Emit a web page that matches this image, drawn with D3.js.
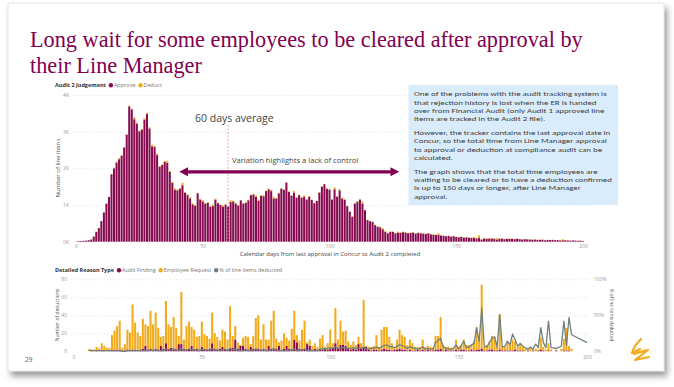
<!DOCTYPE html>
<html><head><meta charset="utf-8">
<script src="https://cdn.jsdelivr.net/npm/d3@7"></script>
<style>body{margin:0;background:#fff;} svg{display:block}</style>
</head><body>
<svg id="c" width="674" height="387"></svg>
<script>
// ---------------- DATA ----------------
const titleLines = ["Long wait for some employees to be cleared after approval by", "their Line Manager"];
const days = d3.range(0, 201); // calendar days 0..200 (category axis)
// Audit 2 Judgement = Approve, number of line items per day
const approve = [5,20,20,25,30,40,60,140,270,370,560,800,1040,1220,1840,2000,2160,2250,2340,2570,
2920,3690,3610,3340,3220,3010,3060,3330,3480,3090,2600,2580,2360,2040,2090,2180,2150,1900,1610,1420,
1400,1450,1540,1340,1270,1180,1020,980,1320,1150,1100,1040,1060,950,970,1150,1050,1000,960,1010,
960,1080,1100,1040,990,1130,1040,1060,1130,1270,1290,1220,1110,1250,1240,1380,1430,1380,1180,1180,
1320,1450,1410,1610,1360,1250,1340,1200,1270,1200,1230,1150,1230,1140,1050,1110,1340,1500,1570,1440,
1420,1150,1430,1230,1400,1180,1140,970,820,680,1040,1090,1150,1040,860,590,560,540,450,410,
390,340,270,230,270,270,230,250,240,260,250,230,240,250,220,240,230,220,210,230,
200,190,180,190,170,160,150,160,140,150,130,120,130,110,120,110,100,100,90,100,
60,90,80,85,90,80,60,80,85,70,75,80,75,70,80,70,60,70,65,60,
55,60,45,50,55,40,50,45,50,40,45,35,40,40,35,30,35,30,25,30,20];
// Detailed Reason Type: number of deductions per day
const auditFinding = [0,0,0,0,0,0,0,1,0,1,0,1,1,0,1,1,2,1,2,1,
1,2,1,2,2,1,2,3,6,2,3,2,3,2,6,3,9,3,4,3,
2,8,8,3,2,3,6,2,3,2,5,3,2,3,9,3,2,3,5,3,
2,3,4,13,3,6,6,3,2,5,3,2,3,2,3,2,6,3,2,3,
6,2,3,6,3,2,13,10,3,2,3,8,6,2,3,2,3,2,3,2,
3,4,9,3,7,7,6,3,2,3,2,8,3,5,5,2,1,2,2,1,
2,3,2,2,1,2,2,3,2,2,1,2,1,1,2,1,2,1,2,1,
1,2,2,3,1,2,1,1,1,2,1,2,2,1,1,2,1,2,2,3,
1,1,2,2,1,1,2,1,1,1,1,1,2,1,1,1,0,1,0,1,
0,1,2,1,0,1,0,0,1,0,0,1,1,1,0,0,0,0,0,0,0];
const employeeRequest = [0,0,0,0,0,0,2,1,2,4,3,8,5,4,3,17,21,27,32,3,
7,22,20,50,30,20,15,33,24,26,42,28,40,24,10,14,47,27,23,35,
24,9,58,10,26,30,21,22,13,15,28,16,15,11,34,17,14,9,19,19,
11,47,13,15,7,1,9,14,14,3,14,35,37,11,27,11,7,31,43,11,
4,10,17,9,9,23,32,8,9,22,31,2,7,4,6,3,11,16,2,7,
21,5,39,10,27,15,17,8,5,8,5,8,6,52,1,3,4,4,16,4,
22,24,25,14,8,3,11,21,16,14,6,11,8,4,3,4,11,4,4,4,
3,15,15,35,6,3,4,3,2,11,4,5,11,6,6,5,11,25,12,71,
4,6,9,15,15,4,39,4,4,10,6,12,9,4,8,4,3,1,4,1,
3,1,13,4,2,8,2,0,1,0,3,13,25,5,3,0,0,0,0,0,0];
// % of line items deducted (days where a value exists)
const lineDays = [6,7,8,9,10,11,12,13,14,15,16,17,18,19,20,21,22,23,24,25,26,27,28,29,30,31,32,33,34,35,36,37,38,39,40,
41,42,43,44,45,46,47,48,49,50,51,52,53,54,55,56,57,58,59,60,61,62,63,64,65,66,67,68,69,70,71,72,73,74,75,
76,77,78,79,80,81,82,83,84,85,86,87,88,89,90,91,92,93,94,95,96,97,98,99,100,101,102,103,104,105,106,107,108,109,110,
111,112,113,114,115,116,117,118,119,120,121,122,123,124,125,126,127,128,129,130,131,132,133,134,135,136,137,138,139,140,
141,142,143,144,145,146,147,148,149,150,151,152,153,154,155,156,157,158,159,160,161,162,163,164,165,166,167,168,169,170,
171,172,173,174,175,176,177,178,179,180,181,182,183,184,185,186,188,190,191,192,193,194,200];
const linePct = [2,1,1,1,1,1,1,1,1,1,1,1,1,0,0,1,1,1,1,1,1,1,1,1,2,1,2,1,1,1,3,2,2,3,2,
1,4,1,2,3,3,2,1,1,3,2,2,1,4,2,2,1,2,2,1,4,2,3,1,1,1,2,1,1,1,3,3,1,2,1,
1,2,4,1,1,1,1,1,1,2,3,1,1,2,3,1,1,1,1,1,2,4,3,4,5,4,6,4,5,5,5,4,4,5,4,
4,4,6,3,3,4,4,6,4,6,8,9,6,7,5,7,9,8,6,4,6,5,4,3,4,6,3,4,3,3,
12,15,18,6,4,3,3,4,9,3,8,14,5,6,9,11,32,14,60,7,6,12,18,20,6,51,6,7,14,9,
24,16,7,11,7,5,3,6,3,10,5,33,12,5,42,5,4,7,42,8,47,23,12];
const topYTicks = [0, 1000, 2000, 3000, 4000];
const topYTickLabels = ["0K", "1K", "2K", "3K", "4K"];
const xTicks = [0, 50, 100, 150, 200];
const botYTicks = [0, 20, 40, 60, 80];
const pctTicks = [0, 50, 100];
const boxParas = [
 ["One of the problems with the audit tracking system is","that rejection history is lost when the ER is handed","over from Financial Audit (only Audit 1 approved line","items are tracked in the Audit 2 file)."],
 ["However, the tracker contains the last approval date in","Concur, so the total time from Line Manager approval","to approval or deduction at compliance audit can be","calculated."],
 ["The graph shows that the total time employees are","waiting to be cleared or to have a deduction confirmed","is up to 150 days or longer, after Line Manager","approval."]
];

// ---------------- STYLE ----------------
const MAROON = "#850a4f", GOLD = "#f2ab1c", GREY = "#71807a", TXT = "#555", TICK = "#9a9a9a";
const SANS = "'Open Sans','Noto Sans',sans-serif";
const svg = d3.select("#c");
const defs = svg.append("defs");
const flt = defs.append("filter").attr("id","sh").attr("x","-5%").attr("y","-5%").attr("width","112%").attr("height","118%");
flt.append("feDropShadow").attr("dx",3).attr("dy",5).attr("stdDeviation",3).attr("flood-color","#000").attr("flood-opacity",0.4);
svg.append("rect").attr("x",8).attr("y",3).attr("width",656).attr("height",368)
  .attr("fill","#fff").attr("stroke","#d6d6d6").attr("stroke-width",0.6).attr("filter","url(#sh)");

// title
const title = svg.append("text").attr("x",30).attr("y",47).attr("fill","#830051")
  .style("font-family","'Liberation Serif','Times New Roman',serif").style("font-size","24px");
titleLines.forEach((l,i)=>title.append("tspan").attr("x",30).attr("y",47+i*26).text(l));
const tw = title.select("tspan").node().getComputedTextLength();
title.style("font-size",(24*553/tw).toFixed(2)+"px");

// ---------------- TOP CHART ----------------
const xT = d3.scaleLinear().domain([0,200]).range([76,583]);
const yT = d3.scaleLinear().domain([0,4000]).range([241.7,95]);
const gT = svg.append("g");
gT.append("g").attr("transform","translate(72,0)")
  .call(d3.axisLeft(yT).tickValues(topYTicks.slice(1)).tickSize(-520).tickFormat(""))
  .call(g=>g.select(".domain").remove())
  .call(g=>g.selectAll("line").attr("stroke","#cfcfcf").attr("stroke-width",0.6).attr("stroke-dasharray","1,2"));
gT.append("g").attr("transform","translate(69,0)")
  .call(d3.axisLeft(yT).tickValues(topYTicks).tickSize(0).tickPadding(0).tickFormat((d,i)=>topYTickLabels[i]))
  .call(g=>g.select(".domain").remove())
  .call(g=>g.selectAll("text").attr("fill",TICK).style("font-family",SANS).style("font-size","5px"));
gT.append("g").attr("transform","translate(0,244)")
  .call(d3.axisBottom(xT).tickValues(xTicks).tickSize(0).tickPadding(0))
  .call(g=>g.select(".domain").remove())
  .call(g=>g.selectAll("text").attr("fill",TICK).style("font-family",SANS).style("font-size","5px"));

const topRows = days.map((d,i)=>({day:d, approve:approve[i], deduct:auditFinding[i]+employeeRequest[i]}));
const stT = d3.stack().keys(["approve","deduct"])(topRows);
const bwT = (xT(1)-xT(0))*0.8;
gT.selectAll("g.s").data(stT).join("g").attr("fill",(s,i)=>i===0?MAROON:GOLD)
  .selectAll("rect").data(s=>s).join("rect")
  .attr("x",d=>xT(d.data.day)-bwT/2).attr("width",bwT)
  .attr("y",d=>yT(d[1])).attr("height",d=>Math.max(0,yT(d[0])-yT(d[1])));

svg.append("text").attr("transform","translate(60,168) rotate(-90)").attr("text-anchor","middle")
  .attr("fill",TXT).style("font-family",SANS).style("font-size","6px").text("Number of line items");
svg.append("text").attr("x",330).attr("y",256).attr("text-anchor","middle")
  .attr("fill","#444").style("font-family",SANS).style("font-size","6px")
  .text("Calendar days from last approval in Concur to Audit 2 completed");

function legend(x,y,titleTxt,items){
  const g = svg.append("g").style("font-family",SANS).style("font-size","5.5px");
  const t = g.append("text").attr("x",x).attr("y",y).attr("fill","#333").style("font-weight","bold").text(titleTxt);
  let cx = x + t.node().getComputedTextLength() + 5;
  items.forEach(it=>{
    g.append("circle").attr("cx",cx).attr("cy",y-1.8).attr("r",2.2).attr("fill",it[1]);
    const tt = g.append("text").attr("x",cx+3).attr("y",y).attr("fill","#777").text(it[0]);
    cx += 3 + tt.node().getComputedTextLength() + 5;
  });
}
legend(55,87,"Audit 2 Judgement",[["Approve",MAROON],["Deduct",GOLD]]);

// annotations
svg.append("line").attr("x1",xT(60)).attr("x2",xT(60)).attr("y1",125).attr("y2",241.7)
  .attr("stroke","#e08aa8").attr("stroke-width",0.7).attr("stroke-dasharray","2,1.5");
svg.append("text").attr("x",195).attr("y",122).attr("fill","#444")
  .style("font-family",SANS).style("font-size","10.5px").text("60 days average");
svg.append("text").attr("x",232).attr("y",163).attr("fill","#444")
  .style("font-family",SANS).style("font-size","7.6px").text("Variation highlights a lack of control");
svg.append("line").attr("x1",186).attr("x2",392).attr("y1",171.8).attr("y2",171.8).attr("stroke","#830051").attr("stroke-width",3.2);
svg.append("path").attr("d","M179.3,171.8 L188,167.3 L188,176.3 Z").attr("fill","#830051");
svg.append("path").attr("d","M399.3,171.8 L390.5,167.3 L390.5,176.3 Z").attr("fill","#830051");

// text box
svg.append("rect").attr("x",408.5).attr("y",85).attr("width",209.5).attr("height",120).attr("fill","#d9ecfb");
const box = svg.append("text").attr("fill","#404040").style("font-family","Carlito,Calibri,Lato,sans-serif").style("font-size","6.8px");
let ly = 96.5;
boxParas.forEach(p=>{
  p.forEach(l=>{ box.append("tspan").attr("x",414).attr("y",ly).text(l); ly += 8.3; });
  ly += 5.5;
});
const bw0 = box.select("tspan").node().getComputedTextLength();
const sx = 193/bw0;
box.attr("transform",`translate(414,0) scale(${sx.toFixed(4)},1) translate(-414,0)`);

// ---------------- BOTTOM CHART ----------------
const xB = d3.scaleLinear().domain([0,200]).range([73.5,587]);
const yB = d3.scaleLinear().domain([0,80]).range([351.3,279.3]);
const yP = d3.scaleLinear().domain([0,100]).range([351.3,279.3]);
const gB = svg.append("g");
gB.append("g").attr("transform","translate(71,0)")
  .call(d3.axisLeft(yB).tickValues(botYTicks.slice(1)).tickSize(-519).tickFormat(""))
  .call(g=>g.select(".domain").remove())
  .call(g=>g.selectAll("line").attr("stroke","#cfcfcf").attr("stroke-width",0.6).attr("stroke-dasharray","1,2"));
gB.append("g").attr("transform","translate(67,0)")
  .call(d3.axisLeft(yB).tickValues(botYTicks).tickSize(0).tickPadding(0))
  .call(g=>g.select(".domain").remove())
  .call(g=>g.selectAll("text").attr("fill",TICK).style("font-family",SANS).style("font-size","5px"));
gB.append("g").attr("transform","translate(594,0)")
  .call(d3.axisRight(yP).tickValues(pctTicks).tickSize(0).tickPadding(0).tickFormat(d=>d+"%"))
  .call(g=>g.select(".domain").remove())
  .call(g=>g.selectAll("text").attr("fill",TICK).style("font-family",SANS).style("font-size","5px"));
gB.append("g").attr("transform","translate(0,355)")
  .call(d3.axisBottom(xB).tickValues(xTicks).tickSize(0).tickPadding(0))
  .call(g=>g.select(".domain").remove())
  .call(g=>g.selectAll("text").attr("fill",TICK).style("font-family",SANS).style("font-size","5px"));

const botRows = days.map((d,i)=>({day:d, af:auditFinding[i], er:employeeRequest[i]}));
const stB = d3.stack().keys(["af","er"])(botRows);
const bwB = (xB(1)-xB(0))*0.8;
gB.selectAll("g.s").data(stB).join("g").attr("fill",(s,i)=>i===0?MAROON:GOLD)
  .selectAll("rect").data(s=>s.filter(d=>d[1]>d[0])).join("rect")
  .attr("x",d=>xB(d.data.day)-bwB/2).attr("width",bwB)
  .attr("y",d=>yB(d[1])).attr("height",d=>yB(d[0])-yB(d[1]));

const lineData = lineDays.map((d,i)=>({day:d,pct:linePct[i]}));
gB.append("path").datum(lineData).attr("fill","none").attr("stroke",GREY).attr("stroke-width",1.3)
  .attr("stroke-linejoin","round")
  .attr("d",d3.line().x(d=>xB(d.day)).y(d=>yP(d.pct)));

svg.append("text").attr("transform","translate(59,315) rotate(-90)").attr("text-anchor","middle")
  .attr("fill",TXT).style("font-family",SANS).style("font-size","5px").text("Number of deductions");
svg.append("text").attr("transform","translate(610,315) rotate(90)").attr("text-anchor","middle")
  .attr("fill",TXT).style("font-family",SANS).style("font-size","4.6px").text("% of line items deducted");
legend(55,272,"Detailed Reason Type",[["Audit Finding",MAROON],["Employee Request",GOLD],["% of line items deducted",GREY]]);

// page number and logo
svg.append("text").attr("x",25).attr("y",362).attr("fill","#555").style("font-family",SANS).style("font-size","6.5px").text("29");
const logo = svg.append("g").attr("fill","none").attr("stroke","#f2ab1c").attr("stroke-width",2.2).attr("stroke-linecap","round").attr("stroke-linejoin","round");
logo.append("path").attr("d","M641,339 C636,344 633,349 632,353 L640,349 M634,354 C639,352 644,351 648,350 C643,354 639,357 635,360 C640,359 645,358 649,357");
</script>
</body></html>
